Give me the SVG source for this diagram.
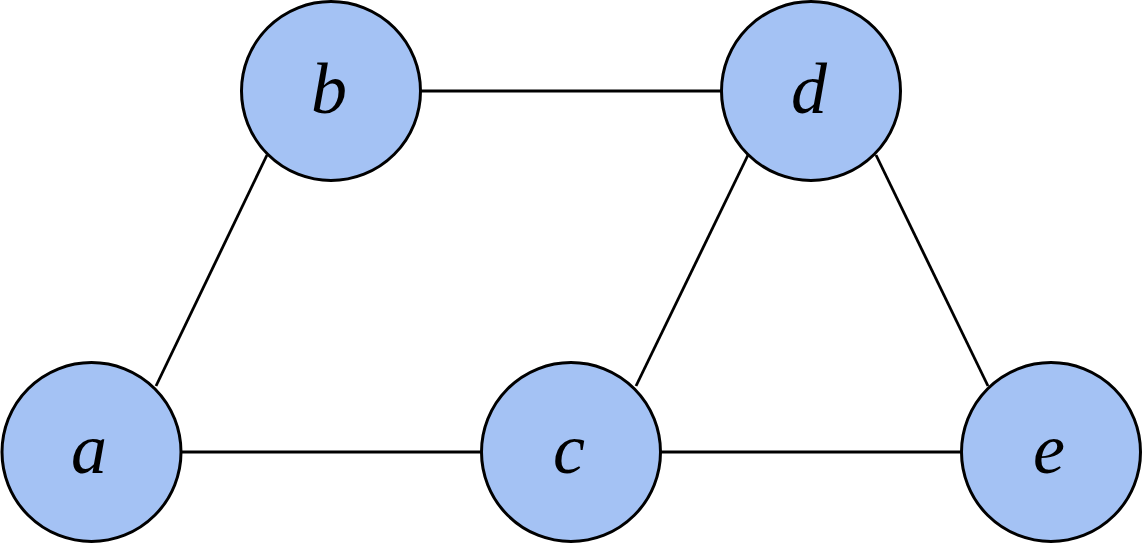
<svg xmlns="http://www.w3.org/2000/svg" width="1143" height="543" viewBox="0 0 1143 543">
<style>
.node{fill:#a4c2f4;stroke:#000;stroke-width:3}
.lbl{font-family:"Liberation Serif",serif;font-style:italic;font-size:72px;text-anchor:middle;fill:#000}
.edge{stroke:#000;stroke-width:2.8;fill:none}
</style>
<rect width="1143" height="543" fill="#fff"/>
<g id="connectors">
<line class="edge" x1="421" y1="91" x2="721" y2="91"/>
<line class="edge" x1="181" y1="452" x2="481" y2="452"/>
<line class="edge" x1="661" y1="452" x2="961" y2="452"/>
<line class="edge" x1="156" y1="386" x2="267" y2="155"/>
<line class="edge" x1="748" y1="155" x2="636" y2="386"/>
<line class="edge" x1="876" y1="155" x2="988" y2="386"/>
</g>
<g id="node-a"><circle class="node" cx="91.5" cy="452" r="89.5"/><text class="lbl" x="89" y="473">a</text></g>
<g id="node-b"><circle class="node" cx="331" cy="91" r="89.5"/><text class="lbl" x="329" y="113">b</text></g>
<g id="node-c"><circle class="node" cx="571" cy="452" r="89.5"/><text class="lbl" x="569" y="473">c</text></g>
<g id="node-d"><circle class="node" cx="811" cy="91" r="89.5"/><text class="lbl" x="809" y="113">d</text></g>
<g id="node-e"><circle class="node" cx="1051" cy="452" r="89.5"/><text class="lbl" x="1049" y="473">e</text></g>
</svg>
